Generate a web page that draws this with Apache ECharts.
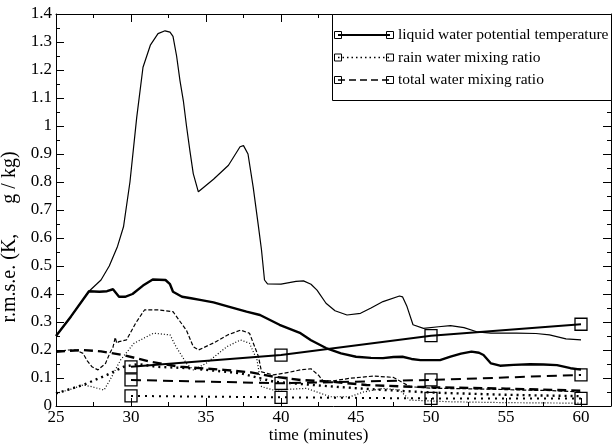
<!DOCTYPE html>
<html>
<head>
<meta charset="utf-8">
<script src="https://cdn.jsdelivr.net/npm/echarts@6/dist/echarts.min.js"></script>
<style>html,body{margin:0;padding:0;background:#fff}#c{width:613px;height:444px}</style>
</head>
<body>
<div id="c"></div>
<script>
// thin solid
const aT = [25,26,27.2,28,28.55,29.1,29.5,29.93,30.38,30.8,31.3,31.8,32.27,32.6,32.8,33.04,33.27,33.49,33.7,33.93,34.15,34.49,35.5,36.5,37.27,37.5,37.8,38.15,38.5,38.7,38.9,39.1,40,41,41.5,42,42.4,43,43.6,44.4,45.3,46,46.8,47.9,48.1,48.4,48.8,49.5,50.5,51.3,52.2,53.05,54,55.7,57,57.9,59,60];
const aV = [0.25,0.32,0.41,0.45,0.5,0.57,0.64,0.80,1.03,1.21,1.29,1.33,1.34,1.335,1.32,1.25,1.16,1.09,1.0,0.91,0.83,0.765,0.81,0.86,0.926,0.93,0.90,0.78,0.64,0.557,0.45,0.436,0.435,0.445,0.447,0.435,0.414,0.367,0.34,0.325,0.331,0.35,0.373,0.393,0.39,0.355,0.29,0.277,0.283,0.287,0.28,0.265,0.26,0.26,0.259,0.254,0.24,0.236];
// thick solid
const bT = [25,26,27.2,27.9,28.4,28.8,29.2,29.6,30.1,30.8,31.45,32.3,32.6,32.8,33.4,34,34.6,35.5,36.5,37.7,38.6,39.9,41.3,42,43,44,45,46,46.8,47.5,48.1,48.7,49.3,50.6,51.3,52,52.7,53.2,53.5,54,54.6,55.5,56.6,57.5,58.4,59.3,60];
const bV = [0.25,0.32,0.41,0.408,0.41,0.417,0.39,0.39,0.40,0.43,0.452,0.45,0.435,0.408,0.39,0.385,0.379,0.37,0.355,0.337,0.325,0.29,0.26,0.235,0.207,0.188,0.176,0.172,0.171,0.175,0.176,0.168,0.164,0.164,0.176,0.187,0.194,0.19,0.182,0.152,0.144,0.147,0.149,0.148,0.146,0.135,0.13];
// thin dashed
const cT = [25,25.8,26.3,26.8,27.1,27.4,27.8,28.3,28.6,28.8,28.95,29.05,29.2,29.7,30.3,30.9,31.9,32.8,33.2,33.7,34.15,34.5,35.5,36.5,37.3,37.9,38.5,38.7,39.5,40.5,41.3,42,42.5,42.8,43.5,44.6,46.2,47.5,48.6,50.2,52,54,56,58,60];
const cV = [0.194,0.2,0.2,0.188,0.16,0.14,0.129,0.152,0.19,0.21,0.245,0.224,0.23,0.236,0.295,0.343,0.343,0.337,0.307,0.27,0.212,0.2,0.225,0.255,0.271,0.26,0.176,0.122,0.111,0.12,0.129,0.133,0.11,0.09,0.09,0.099,0.107,0.102,0.069,0.063,0.062,0.06,0.057,0.055,0.05];
// thin dotted
const dT = [25,26,26.8,27.3,28.2,28.6,29.3,30.2,31.5,32.6,33,33.7,34.15,35,36.4,37.3,37.9,38.4,38.7,39.5,41.7,43.3,44.6,45.5,46.8,47.9,48.6,51.3,55,60];
const dV = [0.045,0.06,0.075,0.07,0.057,0.093,0.164,0.224,0.26,0.254,0.212,0.152,0.129,0.152,0.212,0.236,0.224,0.164,0.069,0.057,0.063,0.033,0.033,0.05,0.063,0.057,0.021,0.015,0.012,0.01];
// thick dashed
const eT = [25,26.8,28,29.5,31.3,33.3,36.2,38,39.5,41.3,43.3,45.7,48,50.1,55,60];
const eV = [0.194,0.2,0.195,0.182,0.158,0.14,0.129,0.12,0.105,0.093,0.087,0.075,0.07,0.067,0.062,0.055];
// thick dotted
const fT = [25,26.8,28.4,29.5,30.5,31.7,33.9,37.3,39.5,41.5,43.3,46,50,55,60];
const fV = [0.045,0.075,0.111,0.14,0.15,0.14,0.135,0.117,0.087,0.078,0.07,0.06,0.048,0.04,0.035];
// marker series (legend)
const mT = [30,40,50,60];
const thetaV = [0.14,0.182,0.251,0.292];
const rainV = [0.036,0.031,0.027,0.027];
const totalV = [0.093,0.081,0.093,0.111];
const legendNames = ['liquid water potential temperature','rain water mixing ratio','total water mixing ratio'];
const xTicks = [25,30,35,40,45,50,55,60];

const zip = (t, v) => t.map((x, i) => [x, v[i]]);
const FONT = 'Liberation Serif';

function curve(name, t, v, width, type) {
  return {type:'line', name, data: zip(t, v), showSymbol:false, symbol:'none', silent:true,
    lineStyle:{color:'#000', width, type}, animation:false};
}
function marked(name, v, type) {
  return {type:'line', name, data: zip(mT, v), symbol:'rect', symbolSize:12, silent:true,
    lineStyle:{color:'#000', width:2, type}, itemStyle:{color:'rgba(0,0,0,0)', borderColor:'#000', borderWidth:1.3},
    animation:false, z:5};
}

const axisCommon = {
  axisLine:{show:true, onZero:false, lineStyle:{color:'#000', width:1}},
  axisTick:{show:true, inside:true, length:8, lineStyle:{color:'#000'}},
  minorTick:{show:true, splitNumber:2, length:4, lineStyle:{color:'#000'}},
  splitLine:{show:false}, minorSplitLine:{show:false}
};

const chart = echarts.init(document.getElementById('c'), null, {renderer:'canvas'});
chart.setOption({
  animation:false,
  backgroundColor:'#fff',
  grid:{left:56, right:2, top:14, bottom:38, containLabel:false, outerBoundsMode:'none'},
  xAxis:[
    Object.assign({type:'value', min:25, max:62, interval:5, position:'bottom',
      name:'time (minutes)', nameLocation:'middle', nameGap:21, nameMoveOverlap:false,
      nameTextStyle:{fontFamily:FONT, fontSize:17, color:'#000', padding:[0,30,0,0]},
      axisLabel:{fontFamily:FONT, fontSize:17, color:'#000', margin:3,
        formatter: v => xTicks.includes(v) ? String(v) : ''}}, axisCommon),
    Object.assign({type:'value', min:25, max:62, interval:5, position:'top', axisLabel:{show:false}}, axisCommon)
  ],
  yAxis:[
    Object.assign({type:'value', min:0, max:1.4, interval:0.1, position:'left',
      name:'r.m.s.e. (K,      g / kg)', nameLocation:'middle', nameGap:31,
      nameTextStyle:{fontFamily:FONT, fontSize:20, color:'#000', padding:[0,54,0,0]},
      axisLabel:{fontFamily:FONT, fontSize:17, color:'#000', margin:4}}, axisCommon),
    Object.assign({type:'value', min:0, max:1.4, interval:0.1, position:'right', axisLabel:{show:false}}, axisCommon)
  ],
  series:[
    curve('a', aT, aV, 1.2, 'solid'),
    curve('b', bT, bV, 2.4, 'solid'),
    curve('c', cT, cV, 1.2, [4,2]),
    curve('d', dT, dV, 1.2, [1,2]),
    curve('e', eT, eV, 2.4, [9,5]),
    curve('f', fT, fV, 2.4, [2,4]),
    marked(legendNames[0], thetaV, 'solid'),
    marked(legendNames[1], rainV, [2,5]),
    marked(legendNames[2], totalV, [10,6])
  ],
  graphic:[
    {type:'rect', shape:{x:332.5, y:14.5, width:279, height:86}, style:{fill:'#fff', stroke:'#000', lineWidth:1}, z:100},
    ...[0,1,2].map(i => {
      const y = 35 + i*22.5;
      const dash = [null, [1.5,3], [7,4]][i];
      return {type:'group', z:101, children:[
        {type:'line', shape:{x1:338, y1:y, x2:390, y2:y}, style:{stroke:'#000', lineWidth: i===0?2:1.5, lineDash:dash}, z:101},
        {type:'rect', shape:{x:334.5, y:y-3.5, width:7, height:7}, style:{fill:'rgba(0,0,0,0)', stroke:'#000', lineWidth:1}, z:102},
        {type:'rect', shape:{x:386.5, y:y-3.5, width:7, height:7}, style:{fill:'rgba(0,0,0,0)', stroke:'#000', lineWidth:1}, z:102},
        {type:'text', x:398, y:y, style:{text:legendNames[i], font:'15.5px "Liberation Serif"', fill:'#000', textVerticalAlign:'middle', verticalAlign:'middle'}, z:102}
      ]};
    })
  ]
});
</script>
</body>
</html>
